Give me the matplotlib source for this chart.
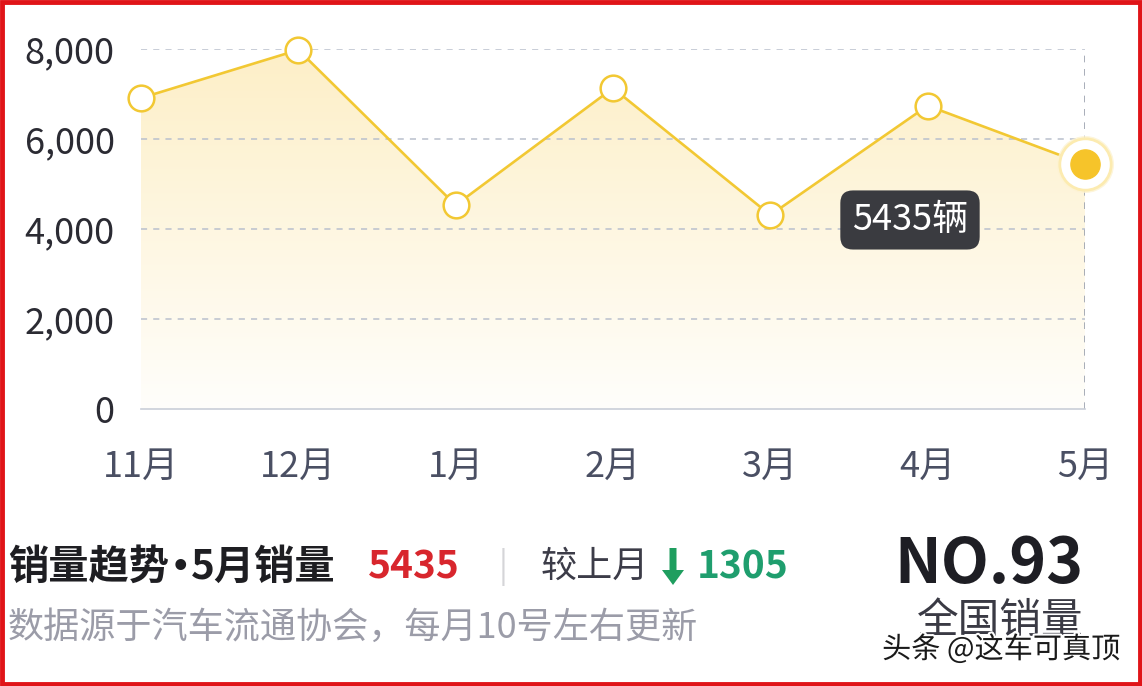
import matplotlib.pyplot as plt
import matplotlib.patheffects as pe
from matplotlib.patches import Rectangle, FancyArrow
from matplotlib.colors import LinearSegmentedColormap
import numpy as np

plt.rcParams['font.family'] = ['Noto Sans CJK SC', 'DejaVu Sans']

# monthly sales
months = ["11月", "12月", "1月", "2月", "3月", "4月", "5月"]
sales = [6910, 7980, 4530, 7130, 4310, 6740, 5435]
y_ticks = [0, 2000, 4000, 6000, 8000]
last_month_sales = 5435
month_change = 1305
rank = 93

LINE = "#f2c833"
GRID = "#b9c0cd"

fig = plt.figure(figsize=(11.42, 6.86), dpi=100)
fig.patch.set_facecolor("white")
ax = fig.add_axes([141 / 1142, 1 - 409 / 686, 944 / 1142, 360 / 686])

x = np.arange(len(months))

# gradient area under the line
poly = ax.fill_between(x, sales, 0, color="none", lw=0)
cmap = LinearSegmentedColormap.from_list("fade", ["#fffefb", "#fdefc7"])
im = ax.imshow(np.linspace(1, 0, 256).reshape(-1, 1), cmap=cmap, aspect="auto",
               extent=[0, len(months) - 1, 0, max(y_ticks)], origin="upper",
               zorder=1, vmin=0, vmax=1)
im.set_clip_path(poly.get_paths()[0], transform=ax.transData)

ax.plot(x, sales, color=LINE, lw=1.9, zorder=3)
ax.plot(x[:-1], sales[:-1], "o", ms=18.5, mfc="white", mec=LINE, mew=1.8, zorder=4, clip_on=False)

# highlighted last point
ax.plot(x[-1], sales[-1], "o", ms=41, mfc="#fdf3d2", mec="none", alpha=0.8, zorder=5, clip_on=False)
ax.plot(x[-1], sales[-1], "o", ms=37, mfc="white", mec="#fcebb0", mew=2, zorder=5, clip_on=False)
ax.plot(x[-1], sales[-1], "o", ms=21, mfc="#f6c42a", mec="#f6c42a", zorder=6, clip_on=False)

# axis pointer
ax.axvline(x[-1], color="#9aa0ad", lw=1.2, ls=(0, (4, 4)), zorder=2)

ax.set_xlim(0, len(months) - 1)
ax.set_ylim(0, max(y_ticks))
ax.set_yticks(y_ticks)
ax.set_yticklabels([f"{v:,}" for v in y_ticks])
ax.set_xticks(x)
ax.set_xticklabels(months)
for v in y_ticks[1:]:
    ax.axhline(v, color=GRID, lw=1.1, ls=(0, (4, 4)), zorder=2)
ax.set_facecolor("none")
for s in ["top", "right", "left"]:
    ax.spines[s].set_visible(False)
ax.spines["bottom"].set_color("#c9ced8")
ax.spines["bottom"].set_linewidth(1.2)
ax.tick_params(axis="y", length=0, pad=19, labelsize=26, labelcolor="#2b2b33")
ax.tick_params(axis="x", length=0, pad=29, labelsize=26, labelcolor="#4a4f63")

# tooltip
ax.annotate(f"{last_month_sales}辆", xy=(x[-1], sales[-1]), xytext=(-126, -40),
            textcoords="offset points", ha="center", va="center", fontsize=26, color="white",
            bbox=dict(boxstyle="round,pad=0.32,rounding_size=0.35", fc="#3a3b40", ec="none"),
            zorder=7)

# red frame
fig.patches.append(Rectangle((0.002, 0.003), 0.996, 0.994, transform=fig.transFigure,
                             fill=False, ec="#e01418", lw=3.5))


def fx(px):
    return px / 1142


def fy(py):
    return 1 - py / 686


# title pieces placed one after another
renderer = fig.canvas.get_renderer()
cur = fx(8)
for piece, fam, size in [("销量趋势", None, 29), ("•", ["DejaVu Sans"], 22), ("5月销量", None, 29)]:
    kw = {"family": fam} if fam else {}
    t = fig.text(cur, fy(567), piece, fontsize=size, fontweight="bold", color="#1e1e22",
                 va="center", ha="left", **kw)
    bb = t.get_window_extent(renderer)
    cur = bb.x1 / fig.bbox.width + 0.001

fig.text(fx(368), fy(567), f"{last_month_sales}", fontsize=28, fontweight="bold", color="#d8262d",
         va="center", ha="left")
fig.text(fx(503), fy(567), "|", fontsize=24, color="#d5d5d8", va="center", ha="center")
fig.text(fx(541), fy(567), "较上月", fontsize=26, color="#3c3c48", va="center", ha="left")
# thick green down arrow
fig.patches.append(FancyArrow(6.73, (686 - 548) / 100, 0, -0.37, width=0.07, head_width=0.22,
                              head_length=0.15, length_includes_head=True,
                              transform=fig.dpi_scale_trans, fc="#1f9e5f", ec="none"))
fig.text(fx(697), fy(567), f"{month_change}", fontsize=28, fontweight="bold", color="#1f9e6e",
         va="center", ha="left")
fig.text(fx(8), fy(628), "数据源于汽车流通协会，每月10号左右更新", fontsize=26, color="#9b9ca8",
         va="center", ha="left")
fig.text(fx(989), fy(565), f"NO.{rank}", fontsize=45, fontweight="bold", color="#1e1e24",
         va="center", ha="center")
fig.text(fx(1000), fy(622), "全国销量", fontsize=30, color="#3a3a44", va="center", ha="center")
fig.text(fx(1001), fy(650), "头条 @这车可真顶", fontsize=21, color="#1a1a1a", va="center", ha="center",
         path_effects=[pe.withStroke(linewidth=3, foreground="white")])

fig.savefig("out.png", dpi=100)
